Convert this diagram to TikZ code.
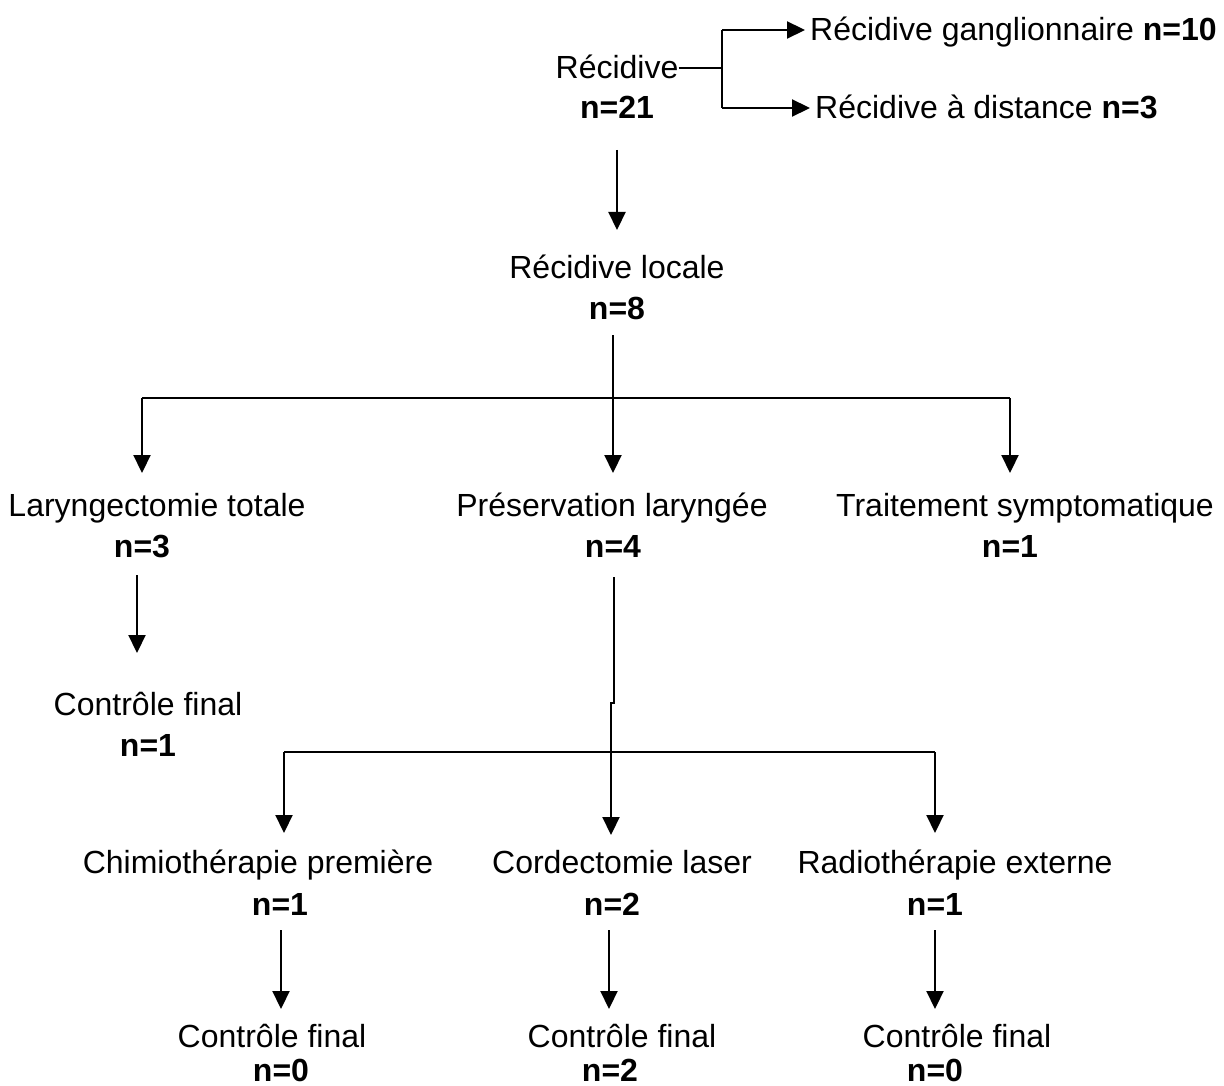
\documentclass[tikz,border=0pt]{standalone}
\usepackage{fontspec}
\setmainfont{Liberation Sans}
\usetikzlibrary{arrows.meta}
\newcommand\fsz{\fontsize{32}{38}\selectfont}
\begin{document}
\begin{tikzpicture}[x=1pt,y=-1pt,
  lbl/.style={font=\fsz, inner sep=0pt, anchor=base},
  cnt/.style={lbl, font=\fsz\bfseries},
  arr/.style={line width=2.2pt, -{Triangle[length=18pt,width=17pt]}},
  br/.style={line width=1.5pt}]
\useasboundingbox (0,0) rectangle (1224,1086);
% nodes
\node[lbl] (rec) at (617,79) {Récidive};
\node[cnt] (recn) at (617,119) {n=21};
\node[lbl, anchor=base west] (rg) at (810,41) {Récidive ganglionnaire \textbf{n=10}};
\node[lbl, anchor=base west] (rd) at (815,119) {Récidive à distance \textbf{n=3}};
\node[lbl] (rl) at (617,279) {Récidive locale};
\node[cnt] (rln) at (617,319) {n=8};
\node[lbl] (lt) at (157,516) {Laryngectomie totale};
\node[cnt] (ltn) at (142,557) {n=3};
\node[lbl] (pl) at (612,516) {Préservation laryngée};
\node[cnt] (pln) at (613,557) {n=4};
\node[lbl] (ts) at (1025,516) {Traitement symptomatique};
\node[cnt] (tsn) at (1010,557) {n=1};
\node[lbl] (cf) at (148,715) {Contrôle final};
\node[cnt] (cfn) at (148,756) {n=1};
\node[lbl] (ch) at (258,873) {Chimiothérapie première};
\node[cnt] (chn) at (280,915) {n=1};
\node[lbl] (co) at (622,873) {Cordectomie laser};
\node[cnt] (con) at (612,915) {n=2};
\node[lbl] (rx) at (955,873) {Radiothérapie externe};
\node[cnt] (rxn) at (935,915) {n=1};
\node[lbl] (f1) at (272,1047) {Contrôle final};
\node[cnt] (f1n) at (281,1081) {n=0};
\node[lbl] (f2) at (622,1047) {Contrôle final};
\node[cnt] (f2n) at (610,1081) {n=2};
\node[lbl] (f3) at (957,1047) {Contrôle final};
\node[cnt] (f3n) at (935,1081) {n=0};
% coordinates
\coordinate (j0) at (722,68);
\coordinate (jt) at (722,30);
\coordinate (jb) at (722,108);
\coordinate (a0) at (617,150);
\coordinate (a1) at (617,230);
\coordinate (b0) at (613,335);
\coordinate (b1) at (613,398);
\coordinate (bl) at (142,398);
\coordinate (br) at (1010,398);
\coordinate (bl2) at (142,473);
\coordinate (bm2) at (613,473);
\coordinate (br2) at (1010,473);
\coordinate (c0) at (137,575);
\coordinate (c1) at (137,653);
\coordinate (d0) at (614,577);
\coordinate (d1) at (614,703);
\coordinate (d2) at (611,703);
\coordinate (dm) at (611,752);
\coordinate (dl) at (284,752);
\coordinate (dr) at (935,752);
\coordinate (dl2) at (284,833);
\coordinate (dm2) at (611,835);
\coordinate (dr2) at (935,833);
\coordinate (e1a) at (281,930);
\coordinate (e1b) at (281,1009);
\coordinate (e2a) at (609,930);
\coordinate (e2b) at (609,1009);
\coordinate (e3a) at (935,930);
\coordinate (e3b) at (935,1009);
% connectors
\draw[br] (rec.east |- j0) -- (j0);
\draw[br] (jt) -- (jb);
\draw[arr, shorten >=5pt] (jt) -- (rg.west |- jt);
\draw[arr, shorten >=5pt] (jb) -- (rd.west |- jb);
\draw[arr] (a0) -- (a1);
\draw[br] (b0) -- (b1);
\draw[br] (bl) -- (br);
\draw[arr] (bl) -- (bl2);
\draw[arr] (b1) -- (bm2);
\draw[arr] (br) -- (br2);
\draw[arr] (c0) -- (c1);
\draw[line width=2.2pt] (d0) -- (d1) -- (d2) -- (dm);
\draw[br] (dl) -- (dr);
\draw[arr] (dl) -- (dl2);
\draw[arr] (dm) -- (dm2);
\draw[arr] (dr) -- (dr2);
\draw[arr] (e1a) -- (e1b);
\draw[arr] (e2a) -- (e2b);
\draw[arr] (e3a) -- (e3b);
\end{tikzpicture}
\end{document}
